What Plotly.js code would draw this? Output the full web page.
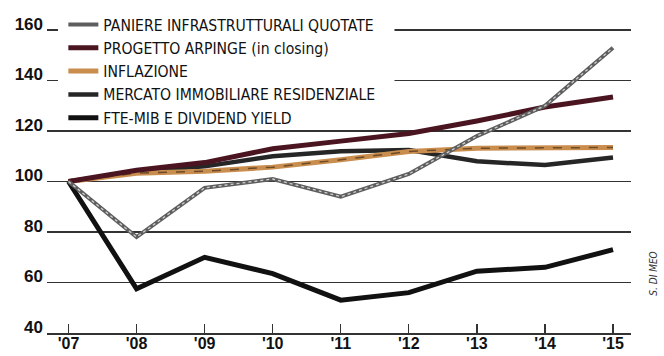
<!DOCTYPE html>
<html><head><meta charset="utf-8">
<script src="https://cdn.plot.ly/plotly-3.0.1.min.js"></script>
<style>html,body{margin:0;padding:0;background:#fff}#chart{width:664px;height:356px}</style>
</head><body><div id="chart"></div>
<script>
const years = [2007, 2008, 2009, 2010, 2011, 2012, 2013, 2014, 2015];
const yearLabels = ["'07", "'08", "'09", "'10", "'11", "'12", "'13", "'14", "'15"];
const yTicks = [40, 60, 80, 100, 120, 140, 160];
const seriesNames = ["PANIERE INFRASTRUTTURALI QUOTATE", "PROGETTO ARPINGE (in closing)", "INFLAZIONE", "MERCATO IMMOBILIARE RESIDENZIALE", "FTE-MIB E DIVIDEND YIELD"];
const paniere = [100, 78, 97.5, 101, 94, 103, 118, 130, 153];
const progetto = [100, 104.5, 107.5, 113, 116, 119, 124, 129.5, 133.5];
const inflazione = [100, 103.3, 104.1, 105.7, 108.6, 111.9, 113.2, 113.4, 113.5];
const mercato = [100, 104, 106, 110, 112, 112.5, 108, 106.5, 109.5];
const fteMib = [100, 57.5, 70, 63.5, 53, 56, 64.5, 66, 73];

const narrow = "Liberation Sans Narrow, DejaVu Sans Condensed, Arial Narrow, sans-serif";
const bold = "Liberation Sans, Arial, sans-serif";

const traces = [
  {x: years, y: fteMib, name: seriesNames[4], legendrank: 5, mode: 'lines', line: {color: '#111111', width: 5}},
  {x: years, y: mercato, name: seriesNames[3], legendrank: 4, mode: 'lines', line: {color: '#262626', width: 4.5}},
  {x: years, y: inflazione, name: seriesNames[2], legendrank: 3, mode: 'lines', line: {color: '#c98d4e', width: 5}},
  {x: years, y: inflazione, showlegend: false, mode: 'lines', line: {color: '#6d4a28', width: 1.5, dash: 'dash'}},
  {x: years, y: progetto, name: seriesNames[1], legendrank: 2, mode: 'lines', line: {color: '#4a1520', width: 5}},
  {x: years, y: paniere, name: seriesNames[0], legendrank: 1, mode: 'lines', line: {color: '#5e5e5e', width: 4}},
  {x: years, y: paniere, showlegend: false, mode: 'lines', line: {color: '#cfcfcf', width: 1.3, dash: 'dot'}}
];

const layout = {
  width: 664, height: 356,
  margin: {l: 47, r: 33, t: 25, b: 23, autoexpand: false},
  paper_bgcolor: '#ffffff', plot_bgcolor: '#ffffff',
  showlegend: true,
  legend: {x: 0.028, y: 1.0555, xanchor: 'left', yanchor: 'top', bgcolor: 'rgba(0,0,0,0)',
    font: {family: narrow, size: 15.6, color: '#111'}, traceorder: 'normal'},
  xaxis: {range: [2006.684, 2015.264], tickvals: years, ticktext: yearLabels,
    showgrid: false, zeroline: false, showline: true, linecolor: '#333', linewidth: 1.5,
    ticks: 'inside', ticklen: 9, tickwidth: 1.2, tickcolor: '#333', ticklabelstandoff: -5,
    tickfont: {family: bold, size: 16, color: '#111', weight: 'bold'}},
  yaxis: {range: [40, 162], tickvals: yTicks, showgrid: true, gridcolor: '#333', gridwidth: 1.5,
    zeroline: false, showline: false, ticks: '', ticklabelshift: -6, ticklabelstandoff: 3,
    tickfont: {family: bold, size: 17, color: '#111', weight: 'bold'}},
  shapes: [{type: 'rect', xref: 'paper', yref: 'paper', x0: 0.0188, x1: 0.595, y0: 0.7175, y1: 1.065,
    fillcolor: '#ffffff', line: {width: 0}, layer: 'above'}],
  annotations: [{text: 'S. DI MEO', xref: 'paper', yref: 'paper', x: 1.05, y: 0.1136, showarrow: false,
    textangle: -90, font: {family: narrow, size: 10, color: '#333', style: 'italic'}}]
};
Plotly.newPlot('chart', traces, layout, {staticPlot: true, displayModeBar: false});
</script></body></html>
